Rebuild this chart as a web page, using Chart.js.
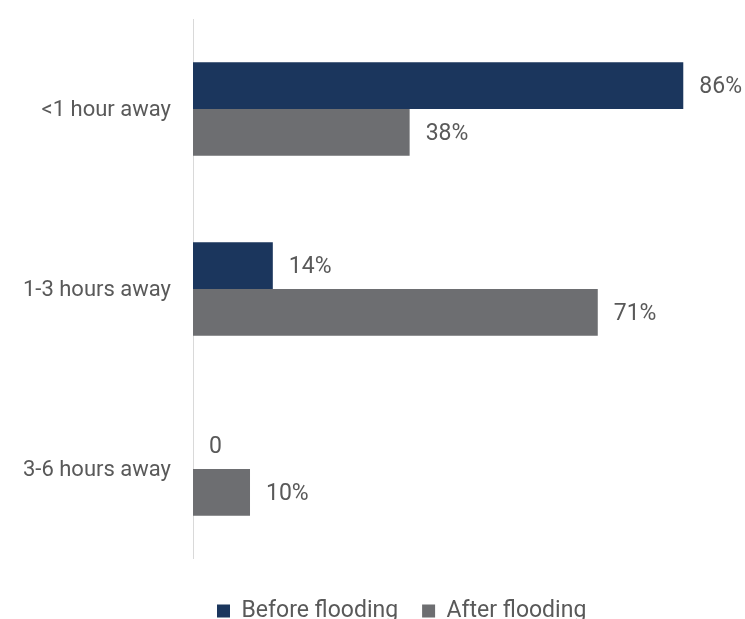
<!DOCTYPE html>
<html>
<head>
<meta charset="utf-8">
<script src="https://cdn.jsdelivr.net/npm/chart.js@4/dist/chart.umd.min.js"></script>
<style>
  html, body { margin: 0; padding: 0; background: #ffffff; overflow: hidden; }
  #wrap { width: 745px; height: 619px; position: relative; }
</style>
</head>
<body>
<div id="wrap"><canvas id="c"></canvas></div>
<script>
const categories = ["<1 hour away", "1-3 hours away", "3-6 hours away"];
const seriesNames = ["Before flooding", "After flooding"];
const beforeValues = [86, 14, 0];
const afterValues = [38, 71, 10];
const seriesColors = ["#1b365d", "#6d6e71"];

const textColor = "#595959";
const fontFamily = "Roboto, 'Open Sans', sans-serif";

function labelFor(v) { return v === 0 ? "0" : v + "%"; }

const valueLabels = {
  id: "valueLabels",
  afterDatasetsDraw(chart) {
    const ctx = chart.ctx;
    ctx.save();
    ctx.font = "23px " + fontFamily;
    ctx.fillStyle = textColor;
    ctx.textAlign = "left";
    ctx.textBaseline = "middle";
    chart.data.datasets.forEach((ds, di) => {
      const meta = chart.getDatasetMeta(di);
      meta.data.forEach((bar, i) => {
        ctx.fillText(labelFor(ds.data[i]), bar.x + 16, bar.y + 2);
      });
    });
    ctx.restore();
  }
};

new Chart(document.getElementById("c"), {
  type: "bar",
  data: {
    labels: categories,
    datasets: [
      { label: seriesNames[0], data: beforeValues, backgroundColor: seriesColors[0] },
      { label: seriesNames[1], data: afterValues, backgroundColor: seriesColors[1] }
    ]
  },
  options: {
    indexAxis: "y",
    responsive: true,
    maintainAspectRatio: false,
    animation: false,
    layout: { padding: { top: 19, right: 3, left: 0, bottom: -13.4 } },
    datasets: { bar: { barPercentage: 1, categoryPercentage: 0.52 } },
    scales: {
      x: { display: false, min: 0, max: 96.3 },
      y: {
        grid: { display: false },
        border: { display: true, color: "#d9d9d9", width: 1 },
        ticks: { color: textColor, font: { size: 22, family: fontFamily }, padding: 14, labelOffset: 2 },
        afterFit(scale) {
          scale.width = 193;
          scale.paddingTop = 0;
          scale.paddingBottom = 0;
        }
      }
    },
    plugins: {
      tooltip: { enabled: false },
      legend: {
        position: "bottom",
        fullSize: false,
        align: "start",
        title: { display: true, text: " ", padding: 0, font: { size: 13.75, lineHeight: 1.2 } },
        labels: {
          boxWidth: 13,
          boxHeight: 13,
          padding: 24,
          color: textColor,
          font: { size: 23, family: fontFamily, lineHeight: 1 }
        }
      }
    }
  },
  plugins: [valueLabels]
});
</script>
</body>
</html>
